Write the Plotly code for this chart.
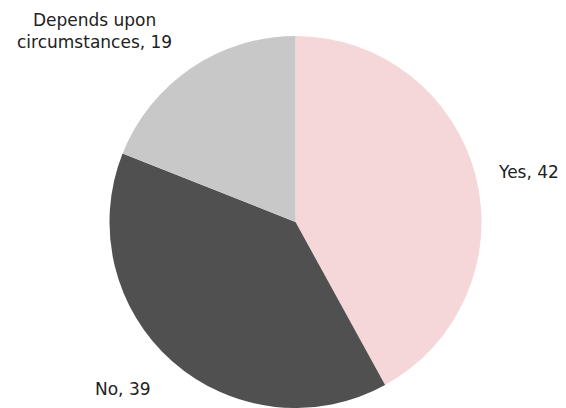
import plotly.graph_objects as go

labels = ["Yes", "No", "Depends upon circumstances"]
values = [42, 39, 19]
colors = ["#F5D7D9", "#505050", "#C8C8C8"]
label_texts = ["Yes, 42", "No, 39", "Depends upon<br>circumstances, 19"]

# page body has an 8px margin; positions below are in window pixels
OFF = 8
W, H = 558, 400
cx, cy_top, r = 295.5, 36, 186
T = cy_top - OFF
B = 0
PH = H - T - B

fig = go.Figure(go.Pie(
    labels=labels, values=values, sort=False, direction="clockwise", rotation=0,
    marker=dict(colors=colors, line=dict(width=0)),
    textinfo="none", hoverinfo="label+value", showlegend=False,
    domain=dict(x=[(cx - OFF - r) / W, (cx - OFF + r) / W], y=[0, 1]),
))

def ann(text, px, py):
    return dict(text=text, x=(px - OFF) / W, y=(H - (py - OFF) - B) / PH,
                xref="paper", yref="paper",
                showarrow=False, xanchor="center", yanchor="middle",
                font=dict(family="DejaVu Sans", size=17, color="#222222"))

fig.update_layout(
    width=W, height=H, margin=dict(l=0, r=0, t=T, b=B),
    paper_bgcolor="white", plot_bgcolor="white",
    annotations=[
        ann(label_texts[0], 528, 172),
        ann(label_texts[1], 123, 389),
        ann(label_texts[2], 94, 31),
    ],
)
fig.write_html("out.html")
